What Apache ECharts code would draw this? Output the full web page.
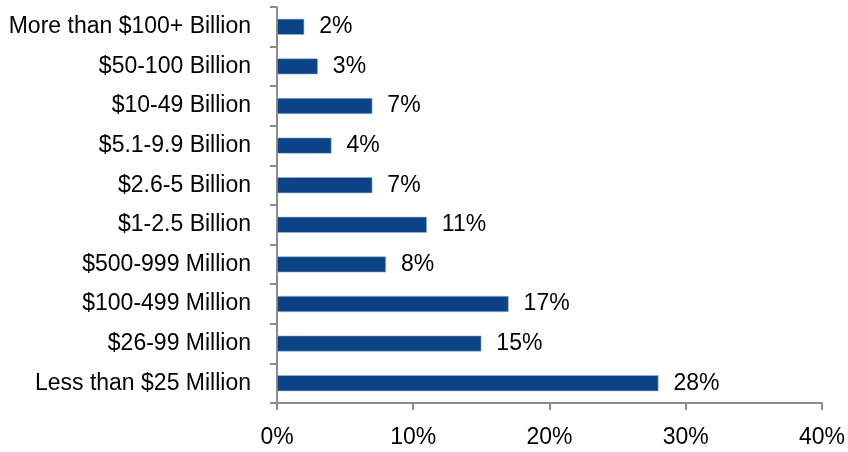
<!DOCTYPE html>
<html>
<head>
<meta charset="utf-8">
<script src="https://cdn.jsdelivr.net/npm/echarts@6/dist/echarts.min.js"></script>
<style>
html,body{margin:0;padding:0;background:#fff;}
#chart{width:848px;height:452px;}
</style>
</head>
<body>
<div id="chart"></div>
<script>
// Market-cap buckets, listed bottom to top
const categories = [
  'Less than $25 Million',
  '$26-99 Million',
  '$100-499 Million',
  '$500-999 Million',
  '$1-2.5 Billion',
  '$2.6-5 Billion',
  '$5.1-9.9 Billion',
  '$10-49 Billion',
  '$50-100 Billion',
  'More than $100+ Billion'
];
// Share of respondents (%)
const shares = [28, 15, 17, 8, 11, 7, 4, 7, 3, 2];
const xTicks = [0, 10, 20, 30, 40];

const font = '"Liberation Sans", Arial, sans-serif';
const chart = echarts.init(document.getElementById('chart'), null, {renderer: 'canvas'});
chart.setOption({
  animation: false,
  grid: {left: 277, right: 26, top: 7, bottom: 49, containLabel: false},
  xAxis: {
    type: 'value',
    min: xTicks[0],
    max: xTicks[xTicks.length - 1],
    interval: 10,
    splitLine: {show: false},
    axisLine: {show: true, lineStyle: {color: '#8c8c8c', width: 2}},
    axisTick: {show: true, length: 7, lineStyle: {color: '#8c8c8c', width: 2}},
    axisLabel: {
      color: '#000', fontSize: 23, fontFamily: font, margin: 23,
      formatter: v => v + '%'
    }
  },
  yAxis: {
    type: 'category',
    data: categories,
    axisLine: {show: true, lineStyle: {color: '#8c8c8c', width: 2}},
    axisTick: {show: true, length: 7, lineStyle: {color: '#8c8c8c', width: 2}},
    axisLabel: {color: '#000', fontSize: 23, fontFamily: font, margin: 26}
  },
  series: [{
    type: 'bar',
    data: shares,
    barWidth: 16,
    itemStyle: {color: '#0b4386', borderColor: '#9db3d3', borderWidth: 0.6},
    label: {
      show: true, position: 'right', distance: 15,
      color: '#000', fontSize: 23, fontFamily: font,
      formatter: p => p.value + '%'
    }
  }]
});
</script>
</body>
</html>
